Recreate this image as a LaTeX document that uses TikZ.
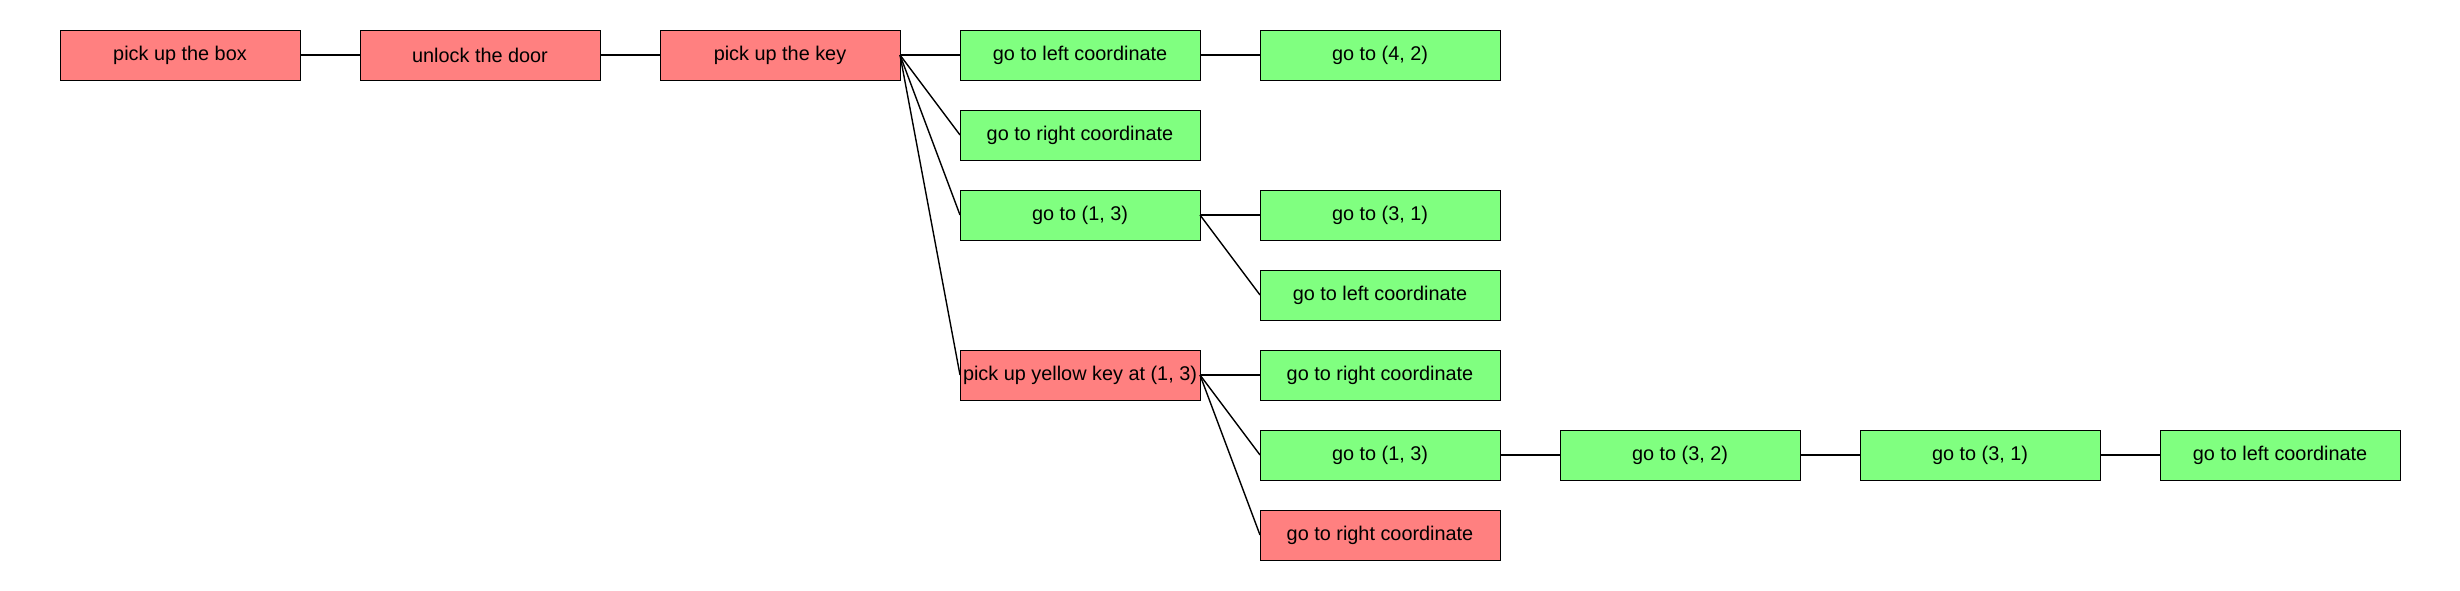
\documentclass[tikz,border=0pt]{standalone}
\usepackage{fontspec}
\setmainfont{Liberation Sans}
\usetikzlibrary{positioning}
\definecolor{failred}{RGB}{255, 128, 128}
\definecolor{donegreen}{RGB}{128, 255, 128}

\begin{document}
\begin{tikzpicture}[
    node distance=0.6cm and 1.2cm,
    box/.style={rectangle, draw, line width=0.5pt, outer sep=0pt, minimum width=4.8cm, minimum height=1cm, inner sep=1pt, font=\fontsize{11.3}{13}\selectfont},
    failed/.style={box, fill=failred},
    done/.style={box, fill=donegreen},
    link/.style={line width=0.8pt}
]
\useasboundingbox (0,0) rectangle (49.2,-11.8);

% Main chain
\node[failed] (box) at (3.6,-1.1) {pick up the box};
\node[failed, right=of box] (door) {unlock the door};
\node[failed, right=of door] (key) {pick up the key};

% Children of the key
\node[done, right=of key] (left1) {go to left coordinate};
\node[done, right=of left1] (fourtwo) {go to (4, 2)};
\node[done, below=of left1] (right1) {go to right coordinate};
\node[done, below=of right1] (onethree) {go to (1, 3)};
\node[done, right=of onethree] (threeone) {go to (3, 1)};
\node[done, below=of threeone] (left2) {go to left coordinate};
\node[failed, below=2.2cm of onethree] (yellow) {pick up yellow key at (1, 3)};

% Children of the yellow key
\node[done, right=of yellow] (right2) {go to right coordinate};
\node[done, below=of right2] (onethreeb) {go to (1, 3)};
\node[done, right=of onethreeb] (threetwo) {go to (3, 2)};
\node[done, right=of threetwo] (threeoneb) {go to (3, 1)};
\node[done, right=of threeoneb] (left3) {go to left coordinate};
\node[failed, below=of onethreeb] (right3) {go to right coordinate};

% Connectors
\draw[link] (box.east) -- (door.west);
\draw[link] (door.east) -- (key.west);
\foreach \child in {left1, right1, onethree, yellow}
    \draw[link] (key.east) -- (\child.west);
\draw[link] (left1.east) -- (fourtwo.west);
\draw[link] (onethree.east) -- (threeone.west);
\draw[link] (onethree.east) -- (left2.west);
\foreach \child in {right2, onethreeb, right3}
    \draw[link] (yellow.east) -- (\child.west);
\draw[link] (onethreeb.east) -- (threetwo.west);
\draw[link] (threetwo.east) -- (threeoneb.west);
\draw[link] (threeoneb.east) -- (left3.west);

\end{tikzpicture}
\end{document}
